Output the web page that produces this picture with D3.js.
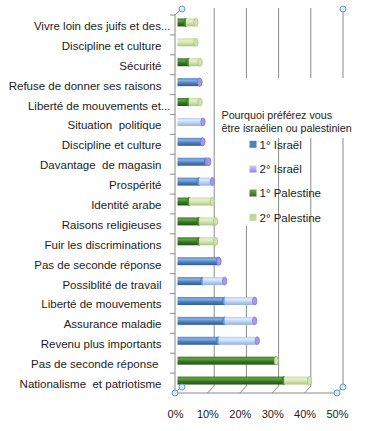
<!DOCTYPE html>
<html>
<head>
<meta charset="utf-8">
<script src="https://cdn.jsdelivr.net/npm/d3@7/dist/d3.min.js"></script>
<style>
  html, body { margin: 0; padding: 0; background: #fff; }
  svg { display: block; font-family: "Liberation Sans", Arial, sans-serif; }
  text { white-space: pre; fill: #1c1c1c; }
</style>
</head>
<body>
<svg id="chart" width="368" height="431"></svg>
<script>
// ---------- data (top row first) ----------
const categories = [
  "Vivre loin des juifs et des...",
  "Discipline et culture",
  "Sécurité",
  "Refuse de donner ses raisons",
  "Liberté de mouvements et...",
  "Situation  politique",
  "Discipline et culture",
  "Davantage  de magasin",
  "Prospérité",
  "Identité arabe",
  "Raisons religieuses",
  "Fuir les discriminations",
  "Pas de seconde réponse",
  "Possiblité de travail",
  "Liberté de mouvements",
  "Assurance maladie",
  "Revenu plus importants",
  "Pas de seconde réponse ",
  "Nationalisme  et patriotisme"
];
const seriesNames = ["1° Israël", "2° Israël", "1° Palestine", "2° Palestine"];
// values in %, null = no value for that series
const israel1    = [null, null, null, 6.9, null, 0,   7.8, 9.0, 6.7, null, null, null, 12.8, 7.8, 14.6, 14.6, 12.7, null, null];
const israel2    = [null, null, null, 0,   null, 7.9, 0,   0.7, 4.1, null, null, null, 0,    6.8, 9.3,  9.3,  12.0, null, null];
const palestine1 = [2.6,  0,    3.5, null, 3.5, null, null, null, null, 3.6, 6.7, 6.7, null, null, null, null, null, 30.6, 33.0];
const palestine2 = [3.1,  5.7,  3.5, null, 3.5, null, null, null, null, 7.2, 5.1, 5.1, null, null, null, null, null, 0,    7.9];
const xTicks = [0, 10, 20, 30, 40, 50];

const seriesValues = [israel1, israel2, palestine1, palestine2];

// ---------- styles ----------
const grads = [
  { id: "g0", stops: ["#5a8bcc", "#86ade3", "#4f81bd", "#2f5c93"], cap: "#6b98d6", capStroke: "#3f6fab" },
  { id: "g1", stops: ["#b7cdf3", "#deeafc", "#bcd2f6", "#93afe0"], cap: "#a898ef", capStroke: "#7f6fd0" },
  { id: "g2", stops: ["#3f7f28", "#62a244", "#367522", "#24531a"], cap: "#4e8c34", capStroke: "#2f6a20" },
  { id: "g3", stops: ["#cbdc9f", "#e6efd0", "#d1e2ae", "#adc482"], cap: "#d3e2b2", capStroke: "#9fb870" }
];
const legendFill = ["#4f81bd", "url(#lg1)", "url(#lg2)", "#c3d69b"];
const lineColor = "#8a8a8a";

const svg = d3.select("#chart");
const defs = svg.append("defs");
grads.forEach(g => {
  const lg = defs.append("linearGradient").attr("id", g.id)
    .attr("x1", 0).attr("y1", 0).attr("x2", 0).attr("y2", 1);
  [0, 0.3, 0.6, 1].forEach((o, i) => lg.append("stop").attr("offset", o).attr("stop-color", g.stops[i]));
});
const lg1 = defs.append("linearGradient").attr("id", "lg1").attr("x1", 0).attr("y1", 0).attr("x2", 0).attr("y2", 1);
lg1.append("stop").attr("offset", 0).attr("stop-color", "#d3cbfb");
lg1.append("stop").attr("offset", 1).attr("stop-color", "#9583ea");
const lg2 = defs.append("linearGradient").attr("id", "lg2").attr("x1", 0).attr("y1", 0).attr("x2", 0).attr("y2", 1);
lg2.append("stop").attr("offset", 0).attr("stop-color", "#6aa84c");
lg2.append("stop").attr("offset", 1).attr("stop-color", "#2d6a1e");

// ---------- scales ----------
const xBar   = d3.scaleLinear().domain([0, 50]).range([177.5, 339]);
const xFront = d3.scaleLinear().domain([0, 50]).range([175, 337]);
const xBack  = d3.scaleLinear().domain([0, 50]).range([182, 343]);
const y = d3.scaleBand().domain(d3.range(categories.length)).range([12.5, 390.5]);
const frontY = 393, backY = 386, topY = 8;

// ---------- walls / gridlines ----------
const grid = svg.append("g");
grid.selectAll("line.back").data(xTicks.slice(1)).join("line")
  .attr("x1", d => xBack(d)).attr("x2", d => xBack(d))
  .attr("y1", topY).attr("y2", backY)
  .attr("stroke", lineColor).attr("stroke-width", 1);
// floor
grid.append("line").attr("x1", xFront(0)).attr("x2", xFront(50))
  .attr("y1", frontY).attr("y2", frontY).attr("stroke", lineColor);
grid.selectAll("line.floor").data(xTicks).join("line")
  .attr("x1", d => xFront(d)).attr("y1", frontY)
  .attr("x2", d => xBack(d)).attr("y2", backY)
  .attr("stroke", lineColor);

// ---------- bars ----------
const bh = 8;
const bars = svg.append("g");
categories.forEach((c, i) => {
  const cy = y(i) + y.bandwidth() / 2;
  let cum = 0;
  seriesValues.forEach((arr, s) => {
    const v = arr[i];
    if (v === null) return;
    const x0 = xBar(cum), x1 = xBar(cum + v);
    if (v > 0) {
      bars.append("rect").attr("x", x0).attr("y", cy - bh / 2)
        .attr("width", x1 - x0).attr("height", bh)
        .attr("fill", "url(#" + grads[s].id + ")");
    }
    if (!(cum === 0 && v === 0)) {
      bars.append("ellipse").attr("cx", x1).attr("cy", cy)
        .attr("rx", 2.2).attr("ry", bh / 2)
        .attr("fill", grads[s].cap).attr("stroke", grads[s].capStroke).attr("stroke-width", 0.6);
    }
    cum += v;
  });
});

// ---------- left axis ----------
const axisG = svg.append("g");
axisG.append("line").attr("x1", xFront(0)).attr("x2", xFront(0))
  .attr("y1", 15).attr("y2", frontY).attr("stroke", lineColor);
axisG.append("line").attr("x1", xFront(0)).attr("y1", 15)
  .attr("x2", xBack(0)).attr("y2", topY).attr("stroke", lineColor);
axisG.selectAll("line.tk").data(d3.range(categories.length)).join("line")
  .attr("x1", xFront(0) - 5).attr("x2", xFront(0))
  .attr("y1", d => y(d) + 2.5).attr("y2", d => y(d) + 2.5)
  .attr("stroke", lineColor);

svg.append("g").selectAll("text").data(categories).join("text")
  .attr("x", d => d.endsWith("...") ? 170.5 : 161.5)
  .attr("y", (d, i) => y(i) + y.bandwidth() / 2 + 7.5)
  .attr("text-anchor", "end")
  .attr("font-size", "11.5px")
  .text(d => d);

// ---------- bottom axis ----------
const xAxis = d3.axisBottom(xFront).tickValues(xTicks)
  .tickFormat(d => d + "%").tickSize(0).tickPadding(17);
const xg = svg.append("g").attr("transform", `translate(0,${frontY})`).call(xAxis);
xg.select(".domain").remove();
xg.selectAll("text").attr("font-size", "11px").attr("fill", "#1c1c1c")
  .attr("font-family", '"Liberation Sans", Arial, sans-serif');

// ---------- legend ----------
const leg = svg.append("g");
leg.append("rect").attr("x", 218).attr("y", 78).attr("width", 150).attr("height", 60).attr("fill", "#fff");
leg.append("rect").attr("x", 238).attr("y", 137).attr("width", 36).attr("height", 89).attr("fill", "#fff");
leg.append("text").attr("x", 221.5).attr("y", 119).attr("font-size", "10.7px").text("Pourquoi préférez vous");
leg.append("text").attr("x", 221.5).attr("y", 132).attr("font-size", "10.7px").text("être israélien ou palestinien");
const legY = [144.3, 169, 193, 217.3];
seriesNames.forEach((n, s) => {
  leg.append("rect").attr("x", 249.5).attr("y", legY[s] - 3.5).attr("width", 7).attr("height", 7)
    .attr("fill", legendFill[s]);
  leg.append("text").attr("x", 259.5).attr("y", legY[s] + 4.3).attr("font-size", "11.5px").text(n);
});

// ---------- selection handles ----------
const handles = [[xBack(0), topY + 1], [xBack(50), topY + 1], [xFront(0), frontY], [xBack(0), backY + 1], [xFront(50), frontY], [xBack(50), backY + 1]];
svg.append("g").selectAll("circle").data(handles).join("circle")
  .attr("cx", d => d[0]).attr("cy", d => d[1]).attr("r", 3)
  .attr("fill", "#d8eaf6").attr("stroke", "#6b9cc2").attr("stroke-width", 1);
</script>
</body>
</html>
